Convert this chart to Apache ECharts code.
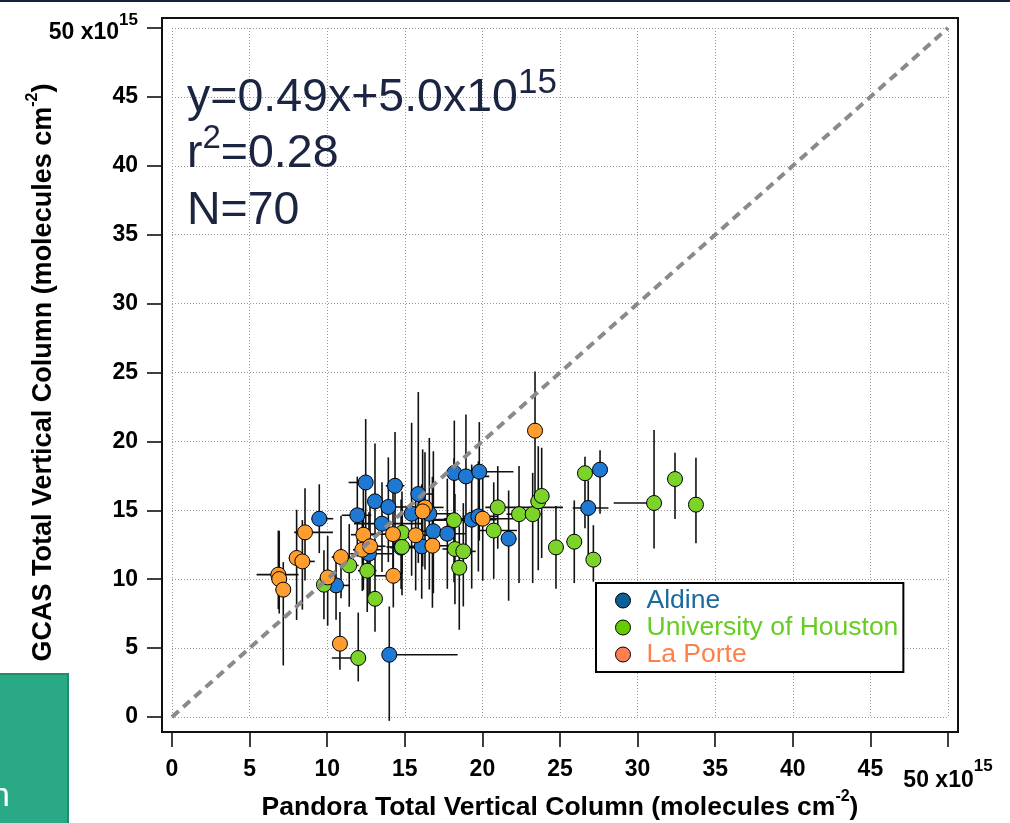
<!DOCTYPE html>
<html>
<head>
<meta charset="utf-8">
<script src="https://cdn.jsdelivr.net/npm/echarts@6/dist/echarts.min.js"></script>
<style>
html,body{margin:0;padding:0;background:#fff;}
#chart{width:1010px;height:823px;}
</style>
</head>
<body>
<div id="chart"></div>
<script>
// points [pandora, gcas] in 1e15 molecules cm-2
var aldinePts = [
    [9.49,14.39],[10.57,9.55],[12.48,17.02],[11.94,14.64],[13.08,15.65],
    [14.37,16.78],[13.94,15.24],[13.53,14.03],[15.44,14.75],[15.87,16.18],
    [16.58,14.75],[16.84,13.48],[16.09,12.38],[14.76,12.29],[12.69,11.85],
    [17.74,13.30],[18.19,17.71],[18.94,17.46],[19.80,17.80],[19.31,14.32],
    [19.74,14.56],[21.69,12.94],[27.58,17.95],[26.82,15.17],[14.00,4.52]
];
// error bars [x minus, x plus, y minus, y plus]
var aldineErr = [
    [0.5,0.9,2.5,2.5],[0.6,0.9,2.5,2.3],[1.1,0.2,5.5,4.6],[1.0,0.9,3.0,2.8],[0.3,0.3,4.0,4.2],
    [0.6,0.6,4.5,3.9],[0.5,1.2,4.0,3.6],[1.8,2.6,3.5,3.0],[0.8,1.0,4.5,6.6],[0.4,1.0,5.0,7.4],
    [1.2,1.5,5.5,5.5],[1.0,1.4,4.5,5.8],[0.8,0.8,3.8,4.5],[0.7,1.0,3.0,3.5],[1.2,1.5,3.0,3.0],
    [1.0,1.2,4.0,4.0],[0.5,1.2,5.5,3.8],[0.6,1.5,6.0,4.5],[2.0,2.2,5.0,3.6],[2.4,1.6,5.0,4.0],
    [1.0,1.2,4.0,4.0],[0.5,0.5,4.5,3.5],[0.2,0.3,3.2,1.4],[1.0,1.3,3.5,2.0],[0.0,4.4,4.8,3.5]
];
var houstonPts = [
    [11.42,11.00],[9.79,9.60],[12.58,10.62],[13.08,8.58],[12.00,4.28],
    [14.82,13.37],[14.82,12.34],[18.17,14.28],[18.23,12.19],[18.77,12.02],
    [18.51,10.83],[20.73,13.53],[20.99,15.21],[22.36,14.72],[23.24,14.72],
    [23.60,15.65],[23.82,16.04],[24.74,12.31],[25.92,12.72],[27.15,11.42],
    [26.61,17.69],[31.06,15.53],[32.41,17.27],[33.76,15.41]
];
var houstonErr = [
    [0.6,0.6,3.0,3.0],[0.5,0.5,2.5,2.5],[0.6,0.6,3.0,3.0],[0.3,0.3,2.4,3.0],[1.7,0.5,1.7,3.3],
    [0.8,0.8,3.0,3.0],[1.0,1.0,3.5,3.0],[1.5,1.5,4.5,4.5],[0.8,0.8,4.0,4.0],[0.8,0.8,4.0,3.5],
    [0.5,0.5,4.5,3.0],[1.0,1.5,3.5,3.5],[0.8,4.2,3.0,3.0],[0.8,0.8,5.0,3.5],[0.5,0.5,5.0,3.0],
    [0.5,0.5,5.0,4.0],[0.3,0.3,4.5,3.5],[0.5,0.5,3.0,3.0],[0.5,0.5,3.0,3.0],[0.4,0.4,1.6,2.5],
    [0.3,0.3,4.0,1.2],[2.6,0.0,3.3,5.3],[0.0,0.0,2.9,1.9],[0.0,0.0,2.8,3.4]
];
var laportePts = [
    [8.57,13.40],[8.03,11.54],[8.40,11.29],[6.85,10.33],[6.91,10.01],
    [7.17,9.24],[10.89,11.61],[10.03,10.13],[14.26,10.25],[10.82,5.32],
    [12.33,13.23],[12.26,12.14],[12.76,12.39],[14.24,13.27],[15.70,13.19],
    [16.30,15.21],[16.15,14.92],[16.78,12.43],[20.02,14.39],[23.39,20.78]
];
var laporteErr = [
    [0.7,1.8,3.5,3.2],[0.5,0.8,4.5,3.5],[0.5,0.8,3.5,3.0],[1.4,1.3,2.5,3.2],[0.5,0.5,2.5,3.5],
    [0.5,0.5,5.5,2.0],[0.6,0.6,3.0,3.0],[0.5,0.5,3.5,3.0],[1.2,0.5,2.3,3.0],[0.4,0.4,1.9,2.3],
    [0.8,0.8,4.0,3.5],[0.6,1.2,3.0,3.0],[0.6,1.0,3.5,3.0],[1.5,1.0,3.5,4.0],[0.8,1.0,4.0,3.0],
    [0.8,1.2,4.5,4.0],[0.5,0.5,4.0,4.5],[1.2,1.5,4.5,5.0],[2.5,2.0,4.5,3.5],[0.2,0.2,6.0,4.3]
];
var oneToOne = [[0,0],[50,50]];
var fitText = ['y=0.49x+5.0x10', '15', 'r', '2', '=0.28', 'N=70'];

var FONT = '"Liberation Sans", Arial, Helvetica, sans-serif';

function withErr(pts, err) {
    var out = [];
    for (var i = 0; i < pts.length; i++) {
        out.push(pts[i].concat(err[i]));
    }
    return out;
}

function errRender(params, api) {
    var x = api.value(0), y = api.value(1);
    var l = api.coord([x - api.value(2), y]);
    var r = api.coord([x + api.value(3), y]);
    var b = api.coord([x, y - api.value(4)]);
    var t = api.coord([x, y + api.value(5)]);
    var st = {stroke: '#111', lineWidth: 1.6};
    return {
        type: 'group',
        children: [
            {type: 'line', shape: {x1: l[0], y1: l[1], x2: r[0], y2: r[1]}, style: st},
            {type: 'line', shape: {x1: b[0], y1: b[1], x2: t[0], y2: t[1]}, style: st}
        ]
    };
}

function errSeries(pts, err) {
    return {
        type: 'custom',
        renderItem: errRender,
        data: withErr(pts, err),
        encode: {x: 0, y: 1},
        z: 2,
        silent: true
    };
}

function dotSeries(name, pts, color) {
    return {
        name: name,
        type: 'scatter',
        data: pts,
        symbol: 'circle',
        symbolSize: 15,
        itemStyle: {color: color, borderColor: '#000', borderWidth: 1, opacity: 1},
        z: 3
    };
}

var bold = function (size, extra) {
    var s = {fontFamily: FONT, fontWeight: 'bold', fontSize: size, color: '#000'};
    for (var k in extra) s[k] = extra[k];
    return s;
};

var gridLine = {show: true, lineStyle: {type: [1, 2], color: '#9a9a9a', width: 1}};
var tick = {length: 15, lineStyle: {color: '#000', width: 1.5}};

function tickFormatter(v) {
    return v === 50 ? '{n|50 x10}{s|15}' : '{d|' + v + '}';
}

var chart = echarts.init(document.getElementById('chart'));
var option = {
    animation: false,
    backgroundColor: '#fff',
    grid: [
        {left: 172, right: 62, top: 28, bottom: 106, outerBoundsMode: 'none'},   // plot area
        {left: 172, right: 62, top: 43, bottom: 91, outerBoundsMode: 'none'},    // x ticks, 15px lower
        {left: 162, right: 72, top: 28, bottom: 106, outerBoundsMode: 'none'}    // y ticks, 10px left
    ],
    xAxis: [
        {
            gridIndex: 0, type: 'value', min: 0, max: 50, interval: 5,
            axisLine: {show: false}, axisTick: {show: false}, axisLabel: {show: false},
            splitLine: gridLine
        },
        {
            gridIndex: 1, type: 'value', min: 0, max: 50, interval: 5,
            name: '{t|Pandora Total Vertical Column (molecules cm}{s|-2}{t|)}',
            nameLocation: 'middle', nameGap: 57, nameMoveOverlap: false,
            nameTextStyle: {
                rich: {
                    t: bold(26.5, {lineHeight: 32, verticalAlign: 'bottom'}),
                    s: bold(16, {lineHeight: 32, verticalAlign: 'top'})
                }
            },
            axisLine: {show: false},
            axisTick: tick,
            axisLabel: {
                margin: 26,
                formatter: tickFormatter,
                rich: {
                    d: bold(23),
                    n: bold(23, {lineHeight: 34, verticalAlign: 'bottom'}),
                    s: bold(17, {lineHeight: 34, verticalAlign: 'top'})
                }
            },
            splitLine: {show: false}
        },
        {gridIndex: 2, type: 'value', min: 0, max: 50, interval: 5, show: false}
    ],
    yAxis: [
        {
            gridIndex: 0, type: 'value', min: 0, max: 50, interval: 5,
            axisLine: {show: false}, axisTick: {show: false}, axisLabel: {show: false},
            splitLine: gridLine
        },
        {gridIndex: 1, type: 'value', min: 0, max: 50, interval: 5, show: false},
        {
            gridIndex: 2, type: 'value', min: 0, max: 50, interval: 5,
            name: '{t|GCAS Total Vertical Column (molecules cm}{s|-2}{t|)}',
            nameLocation: 'middle', nameGap: 105, nameRotate: 90, nameMoveOverlap: false,
            nameTextStyle: {
                rich: {
                    t: bold(27, {lineHeight: 32, verticalAlign: 'bottom'}),
                    s: bold(16, {lineHeight: 32, verticalAlign: 'top'})
                }
            },
            axisLine: {show: false},
            axisTick: tick,
            axisLabel: {
                margin: 24,
                formatter: tickFormatter,
                rich: {
                    d: bold(23),
                    n: bold(23, {lineHeight: 32, verticalAlign: 'bottom'}),
                    s: bold(17, {lineHeight: 32, verticalAlign: 'top'})
                }
            },
            splitLine: {show: false}
        }
    ],
    legend: {
        orient: 'vertical',
        left: 596, top: 583,
        padding: [4, 5, 4, 19],
        itemGap: 0,
        itemWidth: 15, itemHeight: 15,
        icon: 'circle',
        borderColor: '#000', borderWidth: 2,
        backgroundColor: '#fff',
        selectedMode: false,
        textStyle: {fontFamily: FONT, fontSize: 26.5, lineHeight: 26, padding: [0, 0, 0, 11]},
        data: [
            {name: 'Aldine', itemStyle: {color: '#0b5f97', borderColor: '#000', borderWidth: 1}, textStyle: {color: '#1a6aa0'}},
            {name: 'University of Houston', itemStyle: {color: '#66cc00', borderColor: '#000', borderWidth: 1}, textStyle: {color: '#66cc22'}},
            {name: 'La Porte', itemStyle: {color: '#ff7f50', borderColor: '#000', borderWidth: 1}, textStyle: {color: '#ff7f4a'}}
        ]
    },
    graphic: [
        {type: 'rect', z: 100, shape: {x: 0, y: 0, width: 1010, height: 2}, style: {fill: '#16213d'}},
        {type: 'rect', z: 1, silent: true,
            shape: {x: 162, y: 18, width: 796, height: 714}, style: {fill: 'none', stroke: '#111', lineWidth: 2}},
        {type: 'rect', z: 100, shape: {x: -2, y: 674, width: 70, height: 160},
            style: {fill: '#2aa987', stroke: '#1f8c6e', lineWidth: 2}},
        {type: 'text', left: -9, top: 780, z: 101,
            style: {text: 'n', fill: '#fff', font: '34px ' + FONT}},
        {type: 'text', left: 187, top: 66, z: 50,
            style: {
                text: '{a|' + fitText[0] + '}{b|' + fitText[1] + '}',
                rich: {
                    a: {fontFamily: FONT, fontSize: 46.5, fill: '#1b2440', lineHeight: 56, verticalAlign: 'bottom'},
                    b: {fontFamily: FONT, fontSize: 35, fill: '#1b2440', lineHeight: 52, verticalAlign: 'top'}
                }
            }},
        {type: 'text', left: 187, top: 122, z: 50,
            style: {
                text: '{a|' + fitText[2] + '}{b|' + fitText[3] + '}{a|' + fitText[4] + '}',
                rich: {
                    a: {fontFamily: FONT, fontSize: 46.5, fill: '#1b2440', lineHeight: 56, verticalAlign: 'bottom'},
                    b: {fontFamily: FONT, fontSize: 33, fill: '#1b2440', lineHeight: 56, verticalAlign: 'top'}
                }
            }},
        {type: 'text', left: 187, top: 188, z: 50,
            style: {text: fitText[5], fill: '#1b2440', font: '46.5px ' + FONT}}
    ],
    series: [
        errSeries(aldinePts, aldineErr),
        errSeries(houstonPts, houstonErr),
        errSeries(laportePts, laporteErr),
        dotSeries('Aldine', aldinePts, '#1f78d1'),
        dotSeries('University of Houston', houstonPts, '#7cd32a'),
        dotSeries('La Porte', laportePts, '#ff9d2f'),
        {
            type: 'line',
            data: oneToOne,
            symbol: 'none',
            silent: true,
            z: 5,
            lineStyle: {color: '#8a8a8a', width: 4, type: [9, 6]}
        }
    ]
};
chart.setOption(option);
</script>
</body>
</html>
